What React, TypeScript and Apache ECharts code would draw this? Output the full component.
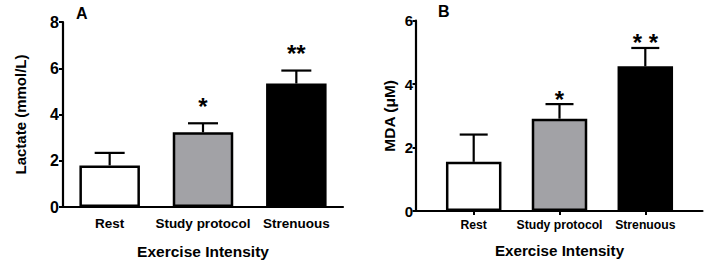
import React, { useEffect, useRef } from "react";
import * as echarts from "echarts";

const categories = ["Rest", "Study protocol", "Strenuous"];
const lactateMean = [1.8, 3.23, 5.34];
const lactateErr = [0.54, 0.39, 0.56];
const lactateSig = ["", "*", "**"];
const mdaMean = [1.55, 2.91, 4.56];
const mdaErr = [0.86, 0.46, 0.58];
const mdaSig = ["", "*", "* *"];
const barColors = ["#ffffff", "#a2a2a6", "#000000"];
const lactateTicks = [0, 2, 4, 6, 8];
const mdaTicks = [0, 2, 4, 6];

const FONT = "'Liberation Sans', Arial, sans-serif";

function errSeries(
  xAxisIndex: number,
  yAxisIndex: number,
  means: number[],
  errs: number[],
  sig: string[],
  capHalf: number,
  starGap: number,
  starSize: number
) {
  return {
    type: "custom",
    xAxisIndex,
    yAxisIndex,
    z: 5,
    data: means.map((m, i) => [i, m, errs[i]]),
    renderItem: (params: any, api: any) => {
      const i = params.dataIndex;
      const base = api.coord([api.value(0), api.value(1)]);
      const top = api.coord([api.value(0), api.value(1) + api.value(2)]);
      const st = { stroke: "#000", lineWidth: 2.2 };
      const children: any[] = [
        { type: "line", shape: { x1: base[0], y1: base[1], x2: top[0], y2: top[1] }, style: st },
        { type: "line", shape: { x1: top[0] - capHalf, y1: top[1], x2: top[0] + capHalf, y2: top[1] }, style: st },
      ];
      if (sig[i]) {
        children.push({
          type: "text",
          x: top[0],
          y: top[1] - starGap,
          style: {
            text: sig[i],
            fill: "#000",
            fontSize: starSize,
            fontWeight: "bold",
            fontFamily: FONT,
            align: "center",
            verticalAlign: "middle",
          },
        });
      }
      return { type: "group", children };
    },
  };
}

export default function App() {
  const ref = useRef<HTMLDivElement>(null);
  useEffect(() => {
    const chart = echarts.init(ref.current!, null, { renderer: "svg" });
    const axisLine = { show: true, lineStyle: { color: "#000", width: 2.2 } };
    const barData = (vals: number[]) =>
      vals.map((v, i) => ({
        value: v,
        itemStyle: { color: barColors[i], borderColor: "#000", borderWidth: 2.5 },
      }));
    chart.setOption({
      animation: false,
      backgroundColor: "#fff",
      textStyle: { fontFamily: FONT },
      title: [
        { text: "A", left: 71, top: 0, textStyle: { fontSize: 16, fontWeight: "bold", color: "#000", fontFamily: FONT } },
        { text: "B", left: 433, top: -2, textStyle: { fontSize: 16, fontWeight: "bold", color: "#000", fontFamily: FONT } },
      ],
      grid: [
        { left: 63, top: 22, width: 280, height: 185.5 },
        { left: 430.8, top: 20.7, width: 257.4, height: 190.3 },
        { left: 416, top: 20.7, width: 286.5, height: 190.3 },
      ],
      xAxis: [
        {
          type: "category",
          gridIndex: 0,
          data: categories,
          axisLine,
          axisTick: { show: false },
          axisLabel: { interval: 0, color: "#000", fontSize: 13.5, fontWeight: "bold", margin: 9, fontFamily: FONT },
          name: "Exercise Intensity",
          nameLocation: "middle",
          nameGap: 36,
          nameTextStyle: { color: "#000", fontSize: 15.5, fontWeight: "bold", fontFamily: FONT },
        },
        {
          type: "category",
          gridIndex: 1,
          data: categories,
          axisLine: { show: false },
          axisTick: { show: true, alignWithLabel: true, length: 4, lineStyle: { color: "#000", width: 2 } },
          axisLabel: { interval: 0, color: "#000", fontSize: 12.2, fontWeight: "bold", margin: 8, fontFamily: FONT },
          name: "Exercise Intensity",
          nameLocation: "middle",
          nameGap: 32,
          nameTextStyle: { color: "#000", fontSize: 15.2, fontWeight: "bold", fontFamily: FONT },
        },
        {
          type: "value",
          gridIndex: 2,
          axisLine,
          axisTick: { show: false },
          axisLabel: { show: false },
          splitLine: { show: false },
        },
      ],
      yAxis: [
        {
          type: "value",
          gridIndex: 0,
          min: lactateTicks[0],
          max: lactateTicks[lactateTicks.length - 1],
          interval: 2,
          axisLine,
          axisTick: { show: true, length: 4, lineStyle: { color: "#000", width: 2 } },
          axisLabel: { color: "#000", fontSize: 16, fontWeight: "bold", margin: 4, fontFamily: FONT },
          splitLine: { show: false },
          name: "Lactate (mmol/L)",
          nameLocation: "middle",
          nameGap: 35,
          nameTextStyle: { color: "#000", fontSize: 15, fontWeight: "bold", fontFamily: FONT },
        },
        {
          type: "value",
          gridIndex: 1,
          offset: 14.8,
          min: mdaTicks[0],
          max: mdaTicks[mdaTicks.length - 1],
          interval: 2,
          axisLine,
          axisTick: { show: true, length: 3.5, lineStyle: { color: "#000", width: 2 } },
          axisLabel: { color: "#000", fontSize: 15, fontWeight: "bold", margin: 3, fontFamily: FONT },
          splitLine: { show: false },
          name: "MDA (μM)",
          nameLocation: "middle",
          nameGap: 19,
          nameTextStyle: { color: "#000", fontSize: 15.5, fontWeight: "bold", fontFamily: FONT },
        },
        { type: "value", gridIndex: 2, show: false },
      ],
      series: [
        { type: "bar", xAxisIndex: 0, yAxisIndex: 0, barWidth: 60.5, data: barData(lactateMean) },
        errSeries(0, 0, lactateMean, lactateErr, lactateSig, 15, 17, 24),
        { type: "bar", xAxisIndex: 1, yAxisIndex: 1, barWidth: 55.5, data: barData(mdaMean) },
        errSeries(1, 1, mdaMean, mdaErr, mdaSig, 14, 5, 24),
      ],
    });
    return () => chart.dispose();
  }, []);
  return (
    <div
      ref={ref}
      style={{ position: "fixed", left: 0, top: 0, width: 709, height: 264, background: "#fff" }}
    />
  );
}
